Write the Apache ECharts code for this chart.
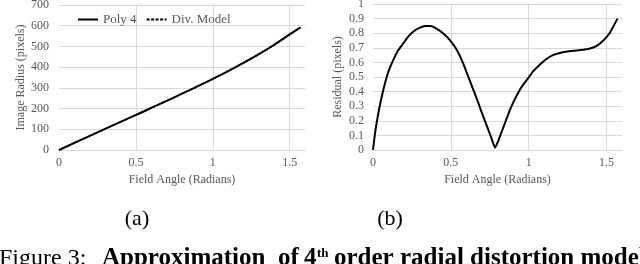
<!DOCTYPE html>
<html><head><meta charset="utf-8">
<script src="https://cdn.jsdelivr.net/npm/echarts@6/dist/echarts.min.js"></script>
<style>html,body{margin:0;padding:0;background:#fff}#c{width:640px;height:264px}</style>
</head><body><div id="c"></div>
<script>
// Chart (a): image radius vs field angle
const thetaA = [0, 0.1, 0.2, 0.3, 0.4, 0.5, 0.6, 0.7, 0.8, 0.9, 1.0, 1.1, 1.2, 1.3, 1.4, 1.5, 1.5708];
const poly4 = [0, 34, 68, 102, 136, 169, 203, 237, 272, 307, 343, 381, 421, 463, 508, 558, 592];
const divModel = [0, 34, 68, 102, 136, 169, 203, 237, 272, 307, 343, 381, 421, 463, 508, 558, 591];
// Chart (b): residual vs field angle
const thetaB = [0, 0.015, 0.034, 0.055, 0.077, 0.1, 0.13, 0.16, 0.194, 0.225, 0.258, 0.295, 0.333, 0.37, 0.408, 0.45, 0.494, 0.53, 0.558, 0.59, 0.62, 0.655, 0.686, 0.71, 0.735, 0.76, 0.785, 0.8, 0.82, 0.85, 0.878, 0.91, 0.942, 0.97, 0.996, 1.03, 1.07, 1.11, 1.156, 1.2, 1.26, 1.31, 1.36, 1.4, 1.44, 1.48, 1.52, 1.5708];
const residual = [0, 0.13, 0.25, 0.36, 0.457, 0.54, 0.616, 0.68, 0.73, 0.775, 0.81, 0.835, 0.849, 0.85, 0.832, 0.8, 0.753, 0.7, 0.645, 0.565, 0.48, 0.385, 0.295, 0.225, 0.155, 0.085, 0.016, 0.05, 0.105, 0.19, 0.27, 0.345, 0.41, 0.455, 0.49, 0.54, 0.582, 0.62, 0.65, 0.665, 0.677, 0.682, 0.688, 0.697, 0.715, 0.75, 0.8, 0.9];
const xTicksText = ['0', '0.5', '1', '1.5'];
const seriesNames = ['Poly 4', 'Div. Model'];
const yNameA = 'Image Radius (pixels)';
const yNameB = 'Residual (pixels)';
const xName = 'Field Angle (Radians)';
const panelLabels = ['(a)', '(b)'];

const FONT = 'Liberation Serif';
const TXT = '#595959';
const GRID = '#d9d9d9';
const chart = echarts.init(document.getElementById('c'), null, {renderer: 'canvas'});
const pairs = (xs, ys) => xs.map((x, i) => [x, ys[i]]);

function xAxis(idx) {
  return {
    type: 'value', gridIndex: idx, min: 0, max: 1.6, interval: 0.5,
    name: xName, nameLocation: 'middle', nameGap: 20,
    nameTextStyle: {fontFamily: FONT, fontSize: 12, color: TXT},
    axisLine: {show: true, lineStyle: {color: GRID, width: 1}},
    axisTick: {show: false},
    axisLabel: {fontFamily: FONT, fontSize: 12, color: TXT, margin: 7, showMaxLabel: false,
      formatter: v => { const i = Math.round(v / 0.5); return Math.abs(v - i * 0.5) < 1e-9 && i < xTicksText.length ? xTicksText[i] : ''; }},
    splitLine: {show: true, lineStyle: {color: ['transparent', GRID, GRID, GRID, 'transparent'], width: 1}}
  };
}
function yAxis(idx, max, interval, name, gap, margin) {
  return {
    type: 'value', gridIndex: idx, min: 0, max: max, interval: interval,
    name: name, nameLocation: 'middle', nameGap: gap, nameRotate: 90,
    nameTextStyle: {fontFamily: FONT, fontSize: 12, color: TXT},
    axisLine: {show: false}, axisTick: {show: false},
    axisLabel: {fontFamily: FONT, fontSize: 12, color: TXT, margin: margin},
    splitLine: {show: true, lineStyle: {color: GRID, width: 1}}
  };
}

chart.setOption({
  animation: false,
  backgroundColor: '#fff',
  grid: [
    {left: 59, top: 5, width: 246, height: 145, outerBoundsMode: 'none', containLabel: false},
    {left: 373, top: 4, width: 249, height: 146, outerBoundsMode: 'none', containLabel: false}
  ],
  legend: {
    data: seriesNames, left: 77, top: 13, padding: 0, itemWidth: 20, itemHeight: 10, itemGap: 9,
    itemStyle: {opacity: 0},
    textStyle: {fontFamily: FONT, fontSize: 13, color: TXT}
  },
  xAxis: [xAxis(0), xAxis(1)],
  yAxis: [yAxis(0, 700, 100, yNameA, 32, 10), yAxis(1, 1, 0.1, yNameB, 29, 9)],
  series: [
    {name: seriesNames[0], type: 'line', xAxisIndex: 0, yAxisIndex: 0, data: pairs(thetaA, poly4),
     symbol: 'none', smooth: 0.3, lineStyle: {color: '#000', width: 2}, itemStyle: {color: '#000'}},
    {name: seriesNames[1], type: 'line', xAxisIndex: 0, yAxisIndex: 0, data: pairs(thetaA, divModel),
     symbol: 'none', smooth: 0.3, lineStyle: {color: '#000', width: 1.5, type: [3, 1.5]}, itemStyle: {color: '#000'}},
    {name: 'Residual', type: 'line', xAxisIndex: 1, yAxisIndex: 1, data: pairs(thetaB, residual),
     symbol: 'none', smooth: 0.2, lineStyle: {color: '#000', width: 2}, itemStyle: {color: '#000'}}
  ],
  graphic: [
    {type: 'text', x: 137, y: 219, style: {text: panelLabels[0], font: '22px "Liberation Serif"', fill: '#000', textAlign: 'center', textVerticalAlign: 'middle'}},
    {type: 'text', x: 390, y: 219, style: {text: panelLabels[1], font: '22px "Liberation Serif"', fill: '#000', textAlign: 'center', textVerticalAlign: 'middle'}},
    {type: 'text', x: -1, y: 271, style: {text: 'Figure 3:', font: '24px "Liberation Serif"', fill: '#000', textAlign: 'left', textVerticalAlign: 'bottom'}},
    {type: 'text', x: 102, y: 271, style: {text: 'Approximation', font: 'bold 25px "Liberation Serif"', fill: '#000', textAlign: 'left', textVerticalAlign: 'bottom'}},
    {type: 'text', x: 278, y: 271, style: {text: 'of', font: 'bold 25px "Liberation Serif"', fill: '#000', textAlign: 'left', textVerticalAlign: 'bottom'}},
    {type: 'text', x: 304, y: 271, style: {text: '4', font: 'bold 25px "Liberation Serif"', fill: '#000', textAlign: 'left', textVerticalAlign: 'bottom'}},
    {type: 'text', x: 317, y: 260, style: {text: 'th', font: 'bold 13px "Liberation Serif"', fill: '#000', textAlign: 'left', textVerticalAlign: 'bottom'}},
    {type: 'text', x: 334, y: 271, style: {text: 'order radial distortion model', font: 'bold 25px "Liberation Serif"', fill: '#000', textAlign: 'left', textVerticalAlign: 'bottom'}}
  ]
});
</script></body></html>
